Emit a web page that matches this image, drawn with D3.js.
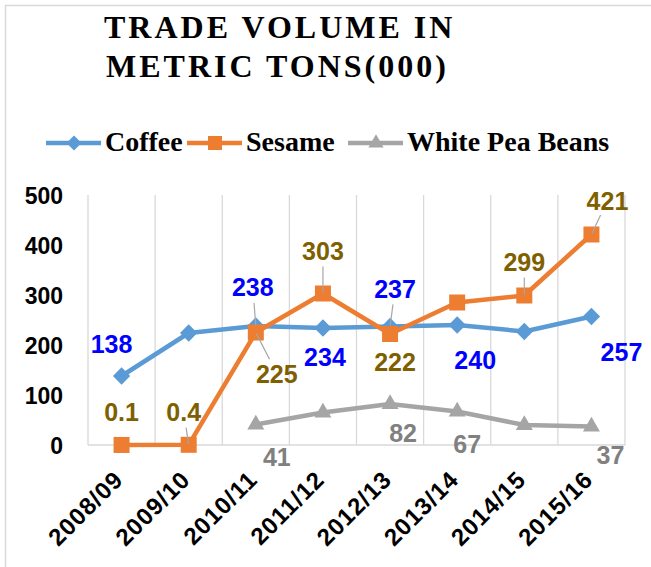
<!DOCTYPE html>
<html>
<head>
<meta charset="utf-8">
<script src="https://cdn.jsdelivr.net/npm/d3@7"></script>
<style>
  body { margin: 0; background: #fff; }
</style>
</head>
<body>
<script>
const years = ["2008/09", "2009/10", "2010/11", "2011/12", "2012/13", "2013/14", "2014/15", "2015/16"];
const coffee = [138, 224, 238, 234, 237, 240, 227, 257];
const sesame = [0.1, 0.4, 225, 303, 222, 285, 299, 421];
const whitePeaBeans = [null, null, 41, 65, 82, 67, 40, 37];
const yTicks = [0, 100, 200, 300, 400, 500];
const seriesNames = ["Coffee", "Sesame", "White Pea Beans"];

const width = 651;
const height = 567;

const svg = d3.select("body")
    .append("svg")
    .attr("width", width)
    .attr("height", height);

// chart border (runs off the right / bottom of the crop)
svg.append("rect")
    .attr("x", 5.5)
    .attr("y", 5.5)
    .attr("width", 700)
    .attr("height", 700)
    .attr("fill", "none")
    .attr("stroke", "#d9d9d9")
    .attr("stroke-width", 1.5);

// title
const titleLines = ["TRADE VOLUME IN", "METRIC TONS(000)"];
svg.append("g")
    .selectAll("text")
    .data(titleLines)
    .enter()
    .append("text")
    .attr("x", (d, i) => i == 0 ? 104 : 106)
    .attr("y", (d, i) => 38 + i * 39)
    .attr("font-family", "'Liberation Serif', 'Times New Roman', serif")
    .attr("font-weight", "bold")
    .attr("font-size", 32)
    .attr("letter-spacing", 3)
    .attr("fill", "#000")
    .text(d => d);

const xScale = d3.scaleBand()
    .domain(years)
    .range([88, 625]);

const yScale = d3.scaleLinear()
    .domain([0, 500])
    .range([445, 195]);

const cx = (i) => xScale(years[i]) + xScale.bandwidth() / 2;

// vertical gridlines between categories
const bounds = years.map(d => xScale(d)).concat([625]);
svg.append("g")
    .selectAll("line")
    .data(bounds)
    .enter()
    .append("line")
    .attr("x1", d => d)
    .attr("x2", d => d)
    .attr("y1", yScale(500))
    .attr("y2", yScale(0))
    .attr("stroke", "#d9d9d9")
    .attr("stroke-width", 1.3);

svg.append("line")
    .attr("x1", 88)
    .attr("x2", 625)
    .attr("y1", yScale(0))
    .attr("y2", yScale(0))
    .attr("stroke", "#d9d9d9")
    .attr("stroke-width", 1.3);

// y axis labels
const yAxis = d3.axisLeft(yScale).tickValues(yTicks).tickSize(0).tickPadding(0);
const yG = svg.append("g")
    .attr("transform", "translate(63,0)")
    .call(yAxis);
yG.select(".domain").remove();
yG.selectAll("text")
    .attr("font-family", "'Liberation Sans', Arial, sans-serif")
    .attr("font-weight", "bold")
    .attr("font-size", 23)
    .attr("fill", "#000")
    .attr("dy", "0.36em");

// x axis labels, rotated
svg.append("g")
    .selectAll("text")
    .data(years)
    .enter()
    .append("text")
    .attr("transform", (d, i) => "translate(" + (cx(i) + 3) + ",481) rotate(-45)")
    .attr("text-anchor", "end")
    .attr("font-family", "'Liberation Sans', Arial, sans-serif")
    .attr("font-weight", "bold")
    .attr("font-size", 24)
    .attr("letter-spacing", 1)
    .attr("fill", "#000")
    .text(d => d);

const colors = ["#5b9bd5", "#ed7d31", "#a5a5a5"];
const allSeries = [coffee, sesame, whitePeaBeans];

const line = d3.line()
    .defined(d => d != null)
    .x((d, i) => cx(i))
    .y(d => yScale(d));

const symbols = [
    d3.symbol().type(d3.symbolSquare).size(150),
    d3.symbol().type(d3.symbolSquare).size(256),
    d3.symbol().type(d3.symbolTriangle).size(125)
];

allSeries.forEach((values, s) => {
    svg.append("path")
        .datum(values)
        .attr("d", line)
        .attr("fill", "none")
        .attr("stroke", colors[s])
        .attr("stroke-width", 4.5)
        .attr("stroke-linejoin", "round");

    svg.append("g")
        .selectAll("path")
        .data(values.map((v, i) => ({ v: v, i: i })).filter(d => d.v != null))
        .enter()
        .append("path")
        .attr("d", symbols[s])
        .attr("transform", d => "translate(" + cx(d.i) + "," + yScale(d.v) + ")" + (s == 0 ? " rotate(45)" : ""))
        .attr("fill", colors[s]);
});

// data labels: which point, offset of label centre from the point, leader line or not
const labelColors = ["#0000ff", "#7f6000", "#808080"];
const labelPlaces = [
    [{ i: 0, dx: -10, dy: -32 }, { i: 2, dx: -3, dy: -39, lead: true }, { i: 3, dx: 2, dy: 29 },
     { i: 4, dx: 5, dy: -38, lead: true }, { i: 5, dx: 18, dy: 35 }, { i: 7, dx: 30, dy: 35 }],
    [{ i: 0, dx: 0, dy: -33 }, { i: 1, dx: -5, dy: -33, lead: true }, { i: 2, dx: 21, dy: 41, lead: true },
     { i: 3, dx: 0, dy: -43, lead: true }, { i: 4, dx: 5, dy: 28 }, { i: 6, dx: 0, dy: -34, lead: true },
     { i: 7, dx: 16, dy: -34, lead: true }],
    [{ i: 2, dx: 21, dy: 32 }, { i: 4, dx: 13, dy: 29 }, { i: 5, dx: 10, dy: 32 }, { i: 7, dx: 19, dy: 28 }]
];

const leaders = svg.append("g");
const labels = svg.append("g");

labelPlaces.forEach((places, s) => {
    places.forEach(p => {
        const v = allSeries[s][p.i];
        const px = cx(p.i);
        const py = yScale(v);
        if (p.lead) {
            // short grey line from label edge towards the point
            const len = Math.sqrt(p.dx * p.dx + p.dy * p.dy);
            const ux = p.dx / len;
            const uy = p.dy / len;
            leaders.append("line")
                .attr("x1", px + ux * 1)
                .attr("y1", py + uy * 1)
                .attr("x2", px + ux * (len - 16))
                .attr("y2", py + uy * (len - 16))
                .attr("stroke", "#a6a6a6")
                .attr("stroke-width", 1.2);
        }
        labels.append("text")
            .attr("x", px + p.dx)
            .attr("y", py + p.dy)
            .attr("dy", "0.36em")
            .attr("text-anchor", "middle")
            .attr("font-family", "'Liberation Sans', Arial, sans-serif")
            .attr("font-weight", "bold")
            .attr("font-size", 25)
            .attr("fill", labelColors[s])
            .text(v);
    });
});

// legend
const legendX = [46, 187, 348];
const legend = svg.append("g");
seriesNames.forEach((name, s) => {
    legend.append("line")
        .attr("x1", legendX[s])
        .attr("x2", legendX[s] + 55)
        .attr("y1", 143)
        .attr("y2", 143)
        .attr("stroke", colors[s])
        .attr("stroke-width", 4.5);
    legend.append("path")
        .attr("d", d3.symbol().type(s == 2 ? d3.symbolTriangle : d3.symbolSquare).size(s == 0 ? 112 : s == 1 ? 196 : 100))
        .attr("transform", "translate(" + (legendX[s] + 28) + ",143)" + (s == 0 ? " rotate(45)" : ""))
        .attr("fill", colors[s]);
    legend.append("text")
        .attr("x", legendX[s] + 59)
        .attr("y", 151)
        .attr("font-family", "'Liberation Serif', 'Times New Roman', serif")
        .attr("font-weight", "bold")
        .attr("font-size", 28)
        .attr("fill", "#000")
        .text(name);
});
</script>
</body>
</html>
